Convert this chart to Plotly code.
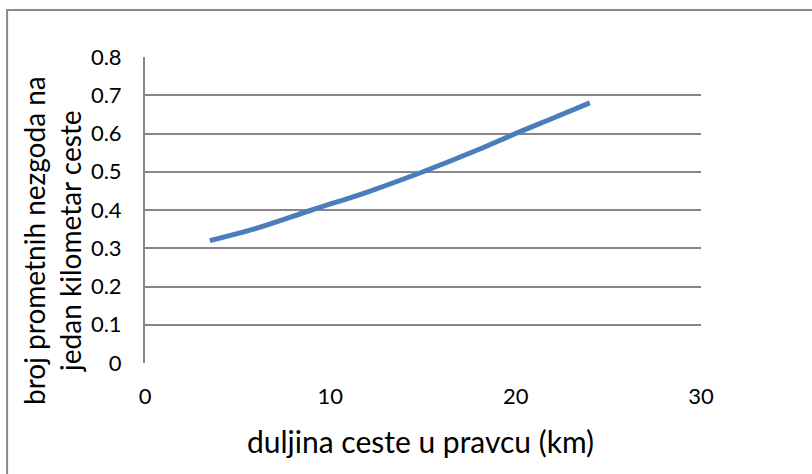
import plotly.graph_objects as go

x_km = [3.5, 6, 9, 12, 15, 18, 20, 22, 24]
y_rate = [0.32, 0.352, 0.40, 0.447, 0.50, 0.558, 0.60, 0.64, 0.68]
x_ticks = [0, 10, 20, 30]
y_ticks = [0, 0.1, 0.2, 0.3, 0.4, 0.5, 0.6, 0.7, 0.8]
x_title = "duljina ceste u pravcu (km)"
y_title = "broj prometnih nezgoda na<br>jedan kilometar ceste"

font = "Lato, Open Sans, sans-serif"
fig = go.Figure()
fig.add_trace(go.Scatter(x=x_km, y=y_rate, mode="lines",
                         line=dict(color="#4a7ebb", width=5, shape="spline"),
                         showlegend=False, hoverinfo="skip"))

fig.update_layout(
    width=812, height=474,
    margin=dict(l=145, r=111, t=57, b=111, autoexpand=False),
    paper_bgcolor="white", plot_bgcolor="white",
    font=dict(family=font, size=22, color="black"),
    xaxis=dict(range=[0, 30], tickvals=x_ticks, ticktext=[str(v) for v in x_ticks],
               showgrid=False, zeroline=False, showline=False, automargin=False,
               ticks="", ticklabelstandoff=18, tickfont=dict(size=22)),
    yaxis=dict(range=[0, 0.8], tickvals=y_ticks, ticktext=[str(v) for v in y_ticks],
               showgrid=True, gridcolor="#878787", gridwidth=2, automargin=False,
               zeroline=False, showline=True, linecolor="#878787", linewidth=2,
               ticks="", ticklabelstandoff=17, tickfont=dict(size=22)),
    annotations=[
        dict(text=x_title, xref="paper", yref="paper", x=0.4964, y=-0.2549,
             xanchor="center", yanchor="middle", showarrow=False,
             font=dict(size=30)),
        dict(text=y_title, xref="paper", yref="paper", x=-0.1673, y=0.402,
             xanchor="center", yanchor="middle", showarrow=False, textangle=-90,
             font=dict(size=28)),
    ],
)
fig.add_shape(type="rect", xref="paper", yref="paper",
              x0=-0.248, x1=1.214, y0=-0.382, y1=1.1536,
              line=dict(color="#888888", width=2), fillcolor="rgba(0,0,0,0)")
fig.write_html("out.html", config={"displayModeBar": False},
               post_script="document.body.style.margin='0';document.body.style.padding='0';")
